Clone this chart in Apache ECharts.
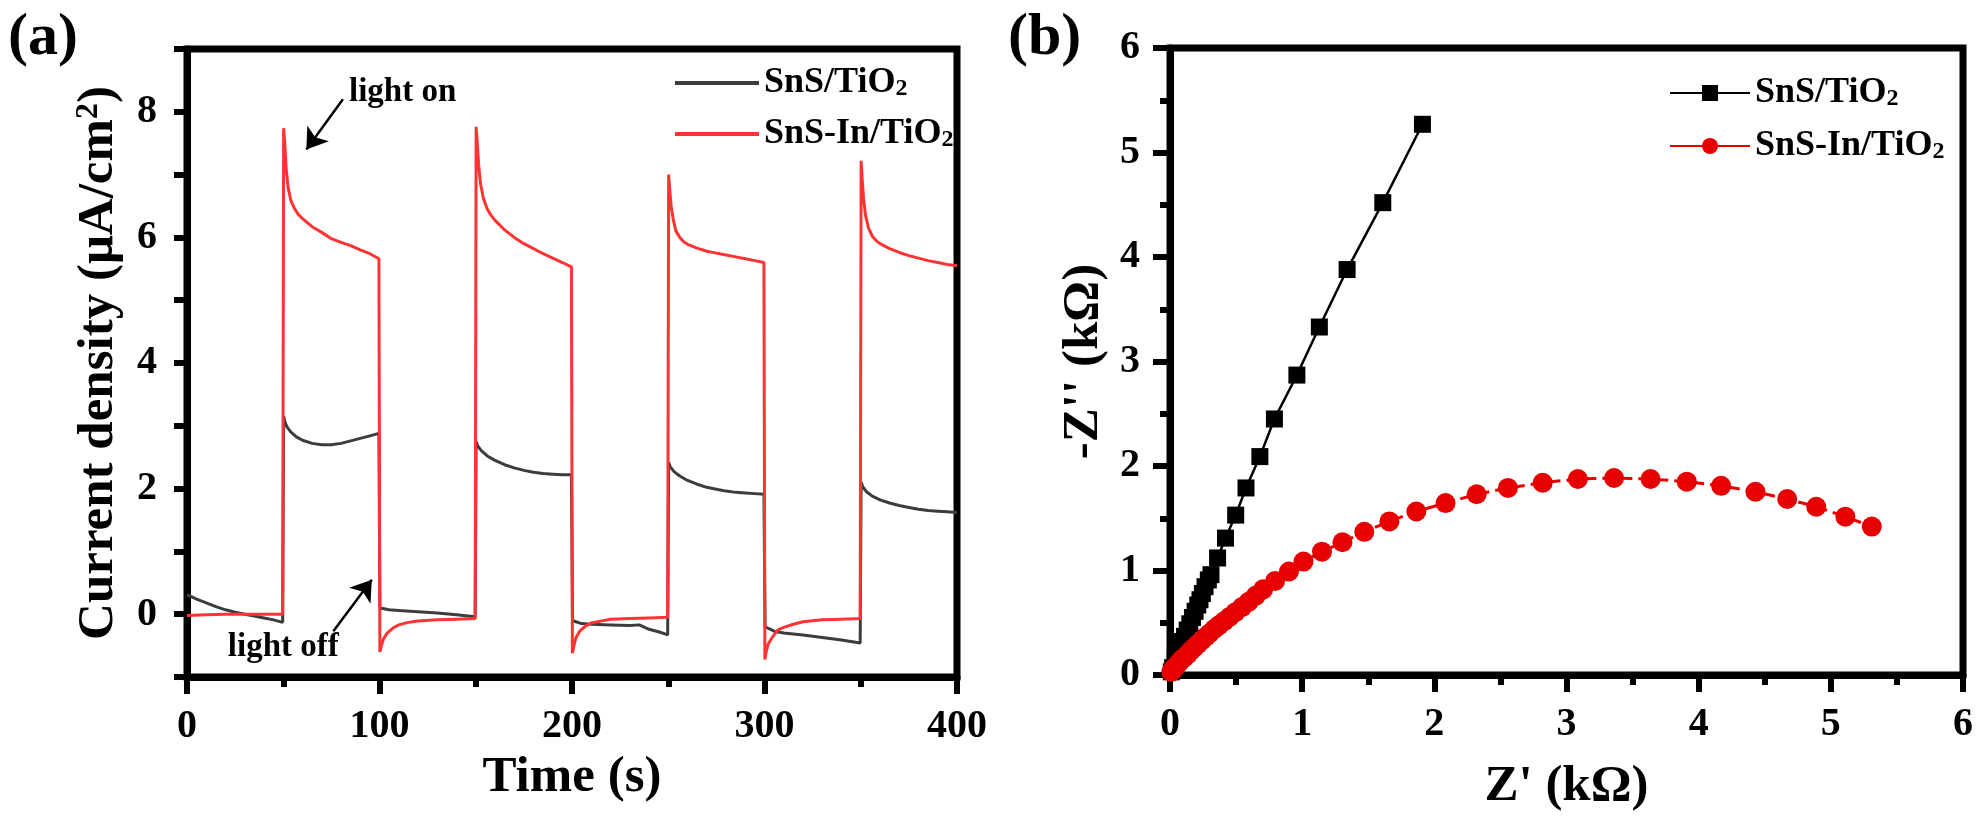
<!DOCTYPE html>
<html>
<head>
<meta charset="utf-8">
<title>SnS/TiO2 photocurrent and EIS</title>
<script src="https://cdn.jsdelivr.net/npm/echarts@6/dist/echarts.min.js"></script>
<style>
  body { margin: 0; background: #fff; }
  #a, #b { position: absolute; top: 0; width: 994px; height: 817px; }
  #a { left: 0; }
  #b { left: 994px; }
</style>
</head>
<body>
<div id="a"></div>
<div id="b"></div>
<script>
// ---- (a) transient photocurrent: time (s) / current density (uA/cm2)
var timeBlack = [0, 5, 10, 15, 20, 25, 30, 35, 40, 45, 49.7,
  50.2, 51, 52, 54, 57, 60, 65, 70, 75, 80, 85, 90, 95, 99.7,
  100.2, 101, 105, 110, 120, 130, 140, 149.7,
  150.2, 151, 153, 156, 160, 165, 170, 175, 180, 185, 190, 195, 199.7,
  200.3, 202, 205, 210, 220, 230, 235, 240, 245, 249.7,
  250.2, 251, 253, 256, 260, 265, 270, 275, 280, 285, 290, 295, 299.7,
  300.3, 301, 305, 310, 320, 330, 340, 349.7,
  350.2, 351, 353, 356, 360, 365, 370, 375, 380, 385, 390, 395, 400];
var curBlack = [0.31, 0.24, 0.18, 0.12, 0.07, 0.03, 0.0, -0.03, -0.06, -0.09, -0.13,
  3.15, 3.05, 2.98, 2.9, 2.82, 2.77, 2.72, 2.7, 2.7, 2.72, 2.76, 2.8, 2.84, 2.88,
  0.1, 0.08, 0.07, 0.06, 0.04, 0.02, -0.01, -0.04,
  2.75, 2.68, 2.6, 2.52, 2.45, 2.38, 2.33, 2.29, 2.26, 2.24, 2.23, 2.22, 2.22,
  -0.1, -0.12, -0.15, -0.16, -0.17, -0.18, -0.17, -0.24, -0.28, -0.33,
  2.42, 2.35, 2.27, 2.2, 2.13, 2.07, 2.02, 1.99, 1.96, 1.94, 1.93, 1.92, 1.91,
  -0.2, -0.22, -0.27, -0.3, -0.33, -0.37, -0.41, -0.46,
  2.1, 2.03, 1.95, 1.88, 1.82, 1.77, 1.73, 1.7, 1.67, 1.65, 1.64, 1.63, 1.62];
var timeRed = [0, 10, 20, 30, 40, 49.7,
  50.2, 50.8, 51.5, 52.5, 54, 56, 58, 60, 65, 70, 75, 80, 85, 90, 95, 99.7,
  100.2, 101, 102, 104, 107, 110, 115, 120, 130, 140, 149.7,
  150.2, 150.8, 151.5, 152.5, 154, 156, 158, 160, 165, 170, 175, 180, 185, 190, 195, 199.7,
  200.2, 201, 202, 204, 207, 210, 215, 220, 230, 240, 249.7,
  250.2, 250.8, 251.5, 252.5, 254, 256, 258, 260, 265, 270, 275, 280, 285, 290, 295, 299.7,
  300.2, 301, 302, 304, 307, 310, 315, 320, 330, 340, 349.7,
  350.2, 350.8, 351.5, 352.5, 354, 356, 358, 360, 365, 370, 375, 380, 385, 390, 395, 400];
var curRed = [-0.02, -0.01, 0.0, 0.0, 0.0, 0.0,
  7.74, 7.5, 7.1, 6.8, 6.58, 6.45, 6.36, 6.3, 6.17, 6.08, 5.98, 5.92, 5.87, 5.8, 5.74, 5.66,
  -0.6, -0.5, -0.4, -0.3, -0.22, -0.17, -0.13, -0.11, -0.09, -0.08, -0.07,
  7.76, 7.5, 7.15, 6.85, 6.62, 6.45, 6.35, 6.27, 6.12, 6.0, 5.9, 5.82, 5.74, 5.67, 5.6, 5.53,
  -0.62, -0.5, -0.38, -0.27, -0.19, -0.14, -0.11, -0.08, -0.07, -0.06, -0.05,
  7.0, 6.75, 6.5, 6.3, 6.1, 6.0, 5.93, 5.89, 5.83, 5.78, 5.75, 5.72, 5.69, 5.66, 5.63, 5.6,
  -0.72, -0.58, -0.47, -0.37, -0.25, -0.21, -0.16, -0.12, -0.09, -0.08, -0.07,
  7.22, 6.9, 6.6, 6.35, 6.15, 6.02, 5.95, 5.9, 5.82, 5.76, 5.71, 5.67, 5.63, 5.6, 5.57, 5.55];
var currentLabels = [0, 2, 4, 6, 8];

// ---- (b) Nyquist plot: Z' / -Z'' (kOhm)
var zReBlack = [0.01, 0.02, 0.04, 0.055, 0.075, 0.095, 0.11, 0.13, 0.15, 0.17, 0.19, 0.21, 0.227, 0.245,
  0.265, 0.29, 0.31, 0.36, 0.42, 0.497, 0.575, 0.68, 0.79, 0.96, 1.13, 1.34, 1.61, 1.91];
var zImBlack = [0.03, 0.07, 0.15, 0.2, 0.26, 0.32, 0.37, 0.43, 0.49, 0.55, 0.61, 0.67, 0.72, 0.78,
  0.845, 0.91, 0.96, 1.12, 1.31, 1.53, 1.79, 2.09, 2.45, 2.87, 3.33, 3.88, 4.52, 5.27];
var zReRed = [0.01, 0.02, 0.035, 0.05, 0.07, 0.09, 0.11, 0.135, 0.16, 0.185, 0.21, 0.24, 0.27, 0.3,
  0.335, 0.37, 0.41, 0.45, 0.495, 0.545, 0.595, 0.65, 0.705, 0.795, 0.9, 1.01, 1.15, 1.305, 1.47,
  1.66, 1.864, 2.085, 2.32, 2.557, 2.82, 3.086, 3.36, 3.636, 3.91, 4.17, 4.43, 4.67, 4.89, 5.11, 5.31];
var zImRed = [0.03, 0.05, 0.07, 0.09, 0.12, 0.15, 0.17, 0.2, 0.235, 0.265, 0.295, 0.33, 0.365, 0.4,
  0.44, 0.475, 0.515, 0.555, 0.6, 0.65, 0.7, 0.76, 0.82, 0.9, 0.99, 1.085, 1.18, 1.27, 1.37,
  1.47, 1.565, 1.645, 1.73, 1.79, 1.84, 1.876, 1.885, 1.876, 1.85, 1.81, 1.754, 1.684, 1.61, 1.515, 1.42];

var FONT = 'Liberation Serif';

function pairs(xs, ys) {
  return xs.map(function (x, i) { return [x, ys[i]]; });
}

function legendText() {
  return {
    fontFamily: FONT, fontWeight: 'bold', fontSize: 36, color: '#000',
    rich: {
      n: { fontFamily: FONT, fontWeight: 'bold', fontSize: 36, lineHeight: 36, color: '#000' },
      sub: { fontFamily: FONT, fontWeight: 'bold', fontSize: 24, lineHeight: 12, verticalAlign: 'bottom', color: '#000' }
    }
  };
}
function legendFmt(name) {
  return '{n|' + name.replace('TiO2', 'TiO') + '}{sub|2}';
}

// every axis gets its own fresh option objects
function valueAxis(min, max, interval, name, nameGap, withMinor) {
  return {
    type: 'value', min: min, max: max, interval: interval, name: name, nameGap: nameGap,
    axisLine: { show: true, onZero: false, lineStyle: { color: '#000', width: 7 } },
    axisTick: { show: true, inside: false, length: withMinor ? 17 : 13, lineStyle: { color: '#000', width: 6 } },
    minorTick: { show: withMinor, splitNumber: 2, length: 10, lineStyle: { color: '#000', width: 6 } },
    axisLabel: { color: '#000', fontFamily: FONT, fontWeight: 'bold', fontSize: 40, margin: 30 },
    splitLine: { show: false },
    nameLocation: 'middle',
    nameTextStyle: { color: '#000', fontFamily: FONT, fontWeight: 'bold', fontSize: 51 }
  };
}

// ---------- chart (a)
var yCur = valueAxis(-1, 9, 1, '{t|Current density (μA/cm}{sup|2}{t|)}', 63, false);
yCur.axisLabel.formatter = function (v) {
  return currentLabels.indexOf(v) >= 0 ? String(v) : '';
};
yCur.nameTextStyle.rich = {
  t: { fontFamily: FONT, fontWeight: 'bold', fontSize: 51, color: '#000' },
  sup: { fontFamily: FONT, fontWeight: 'bold', fontSize: 32, verticalAlign: 'top', color: '#000' }
};

var chartA = echarts.init(document.getElementById('a'));
chartA.setOption({
  animation: false,
  graphic: [{ type: 'text', left: 8, top: 8,
    style: { text: '(a)', fontFamily: FONT, fontWeight: 'bold', fontSize: 60, fill: '#000' } }],
  grid: { left: 187, right: 37, top: 49, bottom: 140, show: true, borderColor: '#000', borderWidth: 7 },
  legend: {
    orient: 'vertical', left: 670, top: 60, icon: 'rect', itemWidth: 84, itemHeight: 4, itemGap: 15,
    textStyle: legendText(), formatter: legendFmt,
    data: ['SnS/TiO2', 'SnS-In/TiO2']
  },
  xAxis: valueAxis(0, 400, 100, 'Time (s)', 66, true),
  yAxis: yCur,
  series: [
    {
      name: 'SnS/TiO2', type: 'line', symbol: 'none',
      lineStyle: { color: '#3c3c3c', width: 3 }, itemStyle: { color: '#3c3c3c' },
      data: pairs(timeBlack, curBlack),
      markLine: {
        silent: true, symbol: ['none', 'arrow'], symbolSize: 20,
        label: { show: false },
        lineStyle: { color: '#000', width: 2.5, type: 'solid' },
        data: [
          [{ coord: [81, 8.2] }, { coord: [62, 7.4] }],
          [{ coord: [76, -0.27] }, { coord: [96, 0.55] }]
        ]
      },
      markPoint: {
        silent: true, symbol: 'circle', symbolSize: 0,
        label: { show: true, position: 'inside', formatter: '{b}', color: '#000',
          fontFamily: FONT, fontWeight: 'bold', fontSize: 33 },
        data: [
          { name: 'light on', coord: [112, 8.3] },
          { name: 'light off', coord: [50, -0.53] }
        ]
      }
    },
    {
      name: 'SnS-In/TiO2', type: 'line', symbol: 'none',
      lineStyle: { color: '#ff3333', width: 3 }, itemStyle: { color: '#ff3333' },
      data: pairs(timeRed, curRed)
    }
  ]
});

// ---------- chart (b)
var chartB = echarts.init(document.getElementById('b'));
chartB.setOption({
  animation: false,
  graphic: [{ type: 'text', left: 14, top: 8,
    style: { text: '(b)', fontFamily: FONT, fontWeight: 'bold', fontSize: 60, fill: '#000' } }],
  grid: { left: 176, right: 25, top: 48, bottom: 142, show: true, borderColor: '#000', borderWidth: 7 },
  legend: {
    orient: 'vertical', left: 670, top: 70, itemWidth: 80, itemHeight: 20, itemGap: 17,
    textStyle: legendText(), formatter: legendFmt,
    data: [
      { name: 'SnS/TiO2' },
      { name: 'SnS-In/TiO2', lineStyle: { type: 'solid' } }
    ]
  },
  xAxis: valueAxis(0, 6, 1, "Z' (kΩ)", 86, true),
  yAxis: valueAxis(0, 6, 1, "-Z'' (kΩ)", 56, true),
  series: [
    {
      name: 'SnS/TiO2', type: 'line', symbol: 'rect', symbolSize: 17, showAllSymbol: true,
      lineStyle: { color: '#000', width: 2.5 }, itemStyle: { color: '#000' },
      data: pairs(zReBlack, zImBlack)
    },
    {
      name: 'SnS-In/TiO2', type: 'line', symbol: 'circle', symbolSize: 20, showAllSymbol: true,
      lineStyle: { color: '#e60000', width: 3, type: 'dashed' }, itemStyle: { color: '#e60000' },
      data: pairs(zReRed, zImRed)
    }
  ]
});
</script>
</body>
</html>
